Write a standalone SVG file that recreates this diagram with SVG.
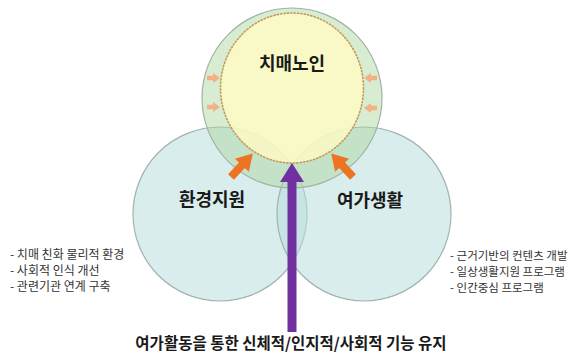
<svg xmlns="http://www.w3.org/2000/svg" width="572" height="361" viewBox="0 0 572 361">
<defs>
<style>
.side{fill:#B9DEDE;fill-opacity:0.55;stroke:#9FB3B0;stroke-width:1.2}
.top{fill:#A9D49A;fill-opacity:0.45;stroke:#9FB3A6;stroke-width:1.2}
.core{fill:#FFFBC4;fill-opacity:0.82;stroke:#C49A5C;stroke-width:1.6;stroke-dasharray:1.2 2.2;stroke-linecap:round}
.title{font-family:"Noto Sans CJK KR","Noto Sans",sans-serif;font-weight:700;font-size:18px;fill:#1a1a1a;text-anchor:middle}
.item{font-family:"Noto Sans CJK KR","Noto Sans",sans-serif;font-size:12px;fill:#333}
.itemR{font-family:"Noto Sans CJK KR","Noto Sans",sans-serif;font-size:11.5px;fill:#333}
.foot{font-family:"Noto Sans CJK KR","Noto Sans",sans-serif;font-weight:700;font-size:15.5px;fill:#1a1a1a;text-anchor:middle}
.big{fill:#EC7422}
.small{fill:#F4B183}
</style>
<path id="bigArrow" d="M0,-4 L16,-4 L16,-9.5 L32,0 L16,9.5 L16,4 L0,4 Z"/>
<path id="smallArrow" d="M0,-2.2 L6,-2.2 L6,-5 L13,0 L6,5 L6,2.2 L0,2.2 Z"/>
</defs>
<rect width="572" height="361" fill="#ffffff"/>
<g id="node-env">
<circle class="side" cx="220" cy="214" r="87"/>
</g>
<g id="node-leisure">
<circle class="side" cx="364" cy="214" r="87"/>
</g>
<g id="node-dementia">
<circle class="top" cx="292" cy="98" r="90"/>
<ellipse class="core" cx="292" cy="88" rx="71.5" ry="75"/>
<text class="title" x="292" y="70">치매노인</text>
</g>
<g id="label-env">
<text class="title" x="212" y="206">환경지원</text>
</g>
<g id="label-leisure">
<text class="title" x="370" y="207">여가생활</text>
</g>
<g id="list-env">
<text class="item" x="10" y="259">- 치매 친화 물리적 환경</text>
<text class="item" x="10" y="275">- 사회적 인식 개선</text>
<text class="item" x="10" y="291">- 관련기관 연계 구축</text>
</g>
<g id="list-leisure">
<text class="itemR" x="450" y="260">- 근거기반의 컨텐츠 개발</text>
<text class="itemR" x="450" y="276">- 일상생활지원 프로그램</text>
<text class="itemR" x="450" y="292">- 인간중심 프로그램</text>
</g>
<g id="connectors">
<use href="#bigArrow" class="big" transform="translate(231,177) rotate(-47)"/>
<use href="#bigArrow" class="big" transform="translate(353,177) rotate(-133)"/>
<use href="#smallArrow" class="small" transform="translate(207,78)"/>
<use href="#smallArrow" class="small" transform="translate(207,107)"/>
<use href="#smallArrow" class="small" transform="translate(377,78) rotate(180)"/>
<use href="#smallArrow" class="small" transform="translate(377,108) rotate(180)"/>
<path d="M287.5,332 L287.5,182 L280,182 L292,163 L304,182 L296.5,182 L296.5,332 Z" fill="#7030A0"/>
</g>
<g id="caption">
<text class="foot" x="291" y="349">여가활동을 통한 신체적/인지적/사회적 기능 유지</text>
</g>
</svg>
